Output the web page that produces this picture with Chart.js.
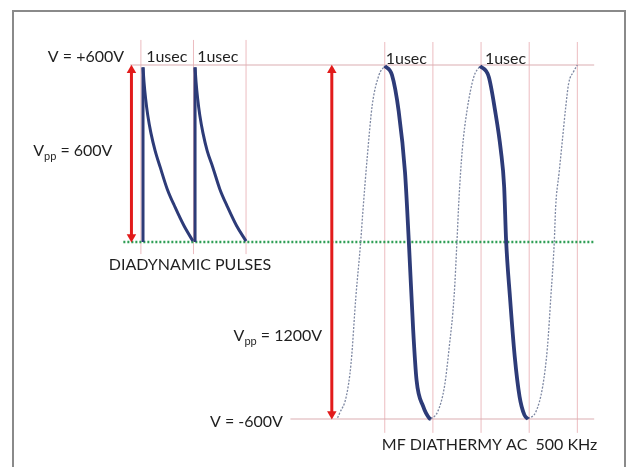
<!DOCTYPE html>
<html>
<head>
<meta charset="utf-8">
<script src="https://cdn.jsdelivr.net/npm/chart.js@4.4.0/dist/chart.umd.min.js"></script>
<style>
  html, body { margin: 0; padding: 0; background: #fff; overflow: hidden; }
  canvas { display: block; }
</style>
</head>
<body>
<canvas id="chart" width="629" height="467"></canvas>
<script>
// Two time bases share one volt axis: left block = diadynamic pulses,
// right block = 500 kHz MF diathermy (1 usec per half cycle).
const pulseGrid = [0, 1, 2];
const acGrid = [1, 2, 3, 4, 5];

// diadynamic pulses, [usec, volts]
const pulse1Edge = [[0.04, 0], [0.04, 592]];
const pulse1Decay = [[0.04, 592], [0.06, 540], [0.09, 485], [0.13, 430], [0.19, 370], [0.27, 310], [0.37, 252], [0.50, 180], [0.65, 118], [0.82, 55], [0.99, 3]];
const pulse2Edge = [[1.03, 0], [1.03, 592]];
const pulse2Decay = [[1.03, 592], [1.05, 540], [1.08, 485], [1.12, 430], [1.18, 370], [1.26, 310], [1.37, 252], [1.50, 180], [1.65, 118], [1.82, 55], [2.0, 3]];

// MF diathermy sine, [usec, volts]; thin = rising halves, bold = falling halves
const acRise1 = [[0.02, -596], [0.06, -581], [0.20, -524], [0.30, -411], [0.40, -185], [0.50, 1], [0.54, 92], [0.64, 295], [0.74, 464], [0.88, 566], [1.0, 597]];
const acFall1 = [[1.0, 597], [1.15, 566], [1.29, 442], [1.42, 238], [1.50, 1], [1.59, -298], [1.66, -468], [1.80, -558], [1.93, -598], [1.96, -600]];
const acRise2 = [[1.96, -600], [2.10, -575], [2.24, -490], [2.34, -355], [2.44, -185], [2.50, 3], [2.54, 142], [2.61, 312], [2.71, 447], [2.85, 560], [2.98, 597]];
const acFall2 = [[2.98, 597], [3.16, 560], [3.29, 447], [3.41, 312], [3.48, 187], [3.52, 7], [3.60, -185], [3.70, -389], [3.80, -524], [3.90, -586], [3.98, -600]];
const acRise3 = [[3.98, -600], [4.14, -575], [4.28, -490], [4.38, -355], [4.45, -185], [4.52, -4], [4.55, 120], [4.62, 233], [4.69, 346], [4.76, 459], [4.82, 538], [4.92, 577], [5.0, 600]];

// reference levels, volts
const vTop = 600;
const vZero = 0;
const vBottom = -600;

const pts = (a) => a.map(([x, y]) => ({ x, y }));

const gridColor = '#ecbcc0';
const levelColor = '#dcaeb2';
const waveColor = '#2d3b78';
const thinColor = '#7f89a3';
const arrowColor = '#e21b1b';
const fontFamily = 'Lato, "Open Sans", sans-serif';

const datasets = [];

for (const t of pulseGrid) {
  datasets.push({ data: pts([[t, -41], [t, 685]]), xAxisID: 'xL', borderColor: gridColor, borderWidth: 1, order: 6 });
}
for (const t of acGrid) {
  datasets.push({ data: pts([[t, -647], [t, 678]]), xAxisID: 'xR', borderColor: gridColor, borderWidth: 1, order: 6 });
}

datasets.push(
  { data: pts([[-4.29, vTop], [5.35, vTop]]), xAxisID: 'xR', borderColor: levelColor, borderWidth: 1.2, order: 5 },
  { data: pts([[-0.96, vBottom], [5.35, vBottom]]), xAxisID: 'xR', borderColor: levelColor, borderWidth: 1.2, order: 5 },
  { data: pts([[-4.43, vZero], [5.37, vZero]]), xAxisID: 'xR', borderColor: '#2f9e55', borderWidth: 2.5, borderDash: [2, 2], order: 4 },
);

for (const seg of [pulse1Edge, pulse2Edge]) {
  datasets.push({ data: pts(seg), xAxisID: 'xL', borderColor: waveColor, borderWidth: 3, order: 2 });
}
for (const seg of [pulse1Decay, pulse2Decay]) {
  datasets.push({ data: pts(seg), xAxisID: 'xL', borderColor: waveColor, borderWidth: 3, cubicInterpolationMode: 'monotone', order: 2 });
}
for (const seg of [acRise1, acRise2, acRise3]) {
  datasets.push({ data: pts(seg), xAxisID: 'xR', borderColor: thinColor, borderWidth: 1.3, borderDash: [2, 1.5], cubicInterpolationMode: 'monotone', order: 3 });
}
for (const seg of [acFall1, acFall2]) {
  datasets.push({ data: pts(seg), xAxisID: 'xR', borderColor: waveColor, borderWidth: 3.8, cubicInterpolationMode: 'monotone', order: 2 });
}

// double-headed red arrows (Vpp markers)
datasets.push(
  { data: pts([[-0.18, 17], [-0.18, 582]]), xAxisID: 'xL', borderColor: arrowColor, borderWidth: 3,
    pointRadius: 5.5, pointStyle: 'triangle', pointRotation: [180, 0], pointBackgroundColor: arrowColor, pointBorderWidth: 0, order: 1 },
  { data: pts([[-0.10, -583], [-0.10, 582]]), xAxisID: 'xR', borderColor: arrowColor, borderWidth: 3,
    pointRadius: 5.5, pointStyle: 'triangle', pointRotation: [180, 0], pointBackgroundColor: arrowColor, pointBorderWidth: 0, order: 1 },
);

for (const ds of datasets) {
  ds.yAxisID = 'y';
  ds.showLine = true;
  ds.clip = false;
  if (ds.pointRadius === undefined) ds.pointRadius = 0;
}

// text labels anchored in data units: [text, sub, rest, axis, x, volts]
const labels = [
  ['V = +600V', '', '', 'xL', -1.77, 627],
  ['1usec', '', '', 'xL', 0.10, 627],
  ['1usec', '', '', 'xL', 1.07, 627],
  ['V', 'pp', ' = 600V', 'xL', -2.05, 308],
  ['DIADYNAMIC PULSES', '', '', 'xL', -0.61, -78],
  ['1usec', '', '', 'xR', 1.02, 620],
  ['1usec', '', '', 'xR', 3.08, 620],
  ['V', 'pp', ' = 1200V', 'xR', -2.14, -319],
  ['V = -600V', '', '', 'xR', -2.63, -610],
  ['MF DIATHERMY AC  500 KHz', '', '', 'xR', 0.94, -688],
];

// grey picture frame, open at the bottom like the source slide
const framePlugin = {
  id: 'frame',
  beforeDatasetsDraw(chart) {
    const { ctx } = chart;
    ctx.save();
    ctx.strokeStyle = '#8a8a8a';
    ctx.lineWidth = 2;
    ctx.beginPath();
    ctx.moveTo(13, 467);
    ctx.lineTo(13, 11);
    ctx.lineTo(625, 11);
    ctx.lineTo(625, 467);
    ctx.stroke();
    ctx.restore();
  },
};

const labelPlugin = {
  id: 'labels',
  afterDatasetsDraw(chart) {
    const { ctx, scales } = chart;
    ctx.save();
    ctx.fillStyle = '#1f1f1f';
    ctx.textBaseline = 'middle';
    ctx.textAlign = 'left';
    for (const [text, sub, rest, axis, x, v] of labels) {
      let px = scales[axis].getPixelForValue(x);
      const py = scales.y.getPixelForValue(v);
      ctx.font = `16px ${fontFamily}`;
      ctx.fillText(text, px, py);
      if (sub) {
        px += ctx.measureText(text).width;
        ctx.font = `11px ${fontFamily}`;
        ctx.fillText(sub, px, py + 5);
        px += ctx.measureText(sub).width;
        ctx.font = `16px ${fontFamily}`;
        ctx.fillText(rest, px, py);
      }
    }
    ctx.restore();
  },
};

new Chart(document.getElementById('chart'), {
  type: 'scatter',
  data: { datasets },
  options: {
    responsive: false,
    animation: false,
    layout: { padding: { top: 65, bottom: 48, left: 0, right: 0 } },
    plugins: { legend: { display: false }, tooltip: { enabled: false } },
    scales: {
      xL: { type: 'linear', axis: 'x', display: false, min: -2.576, max: 9.181 },
      xR: { type: 'linear', axis: 'x', display: false, min: -6.878, max: 5.959 },
      y: { type: 'linear', display: false, min: -600, max: 600 },
    },
  },
  plugins: [framePlugin, labelPlugin],
});
</script>
</body>
</html>
